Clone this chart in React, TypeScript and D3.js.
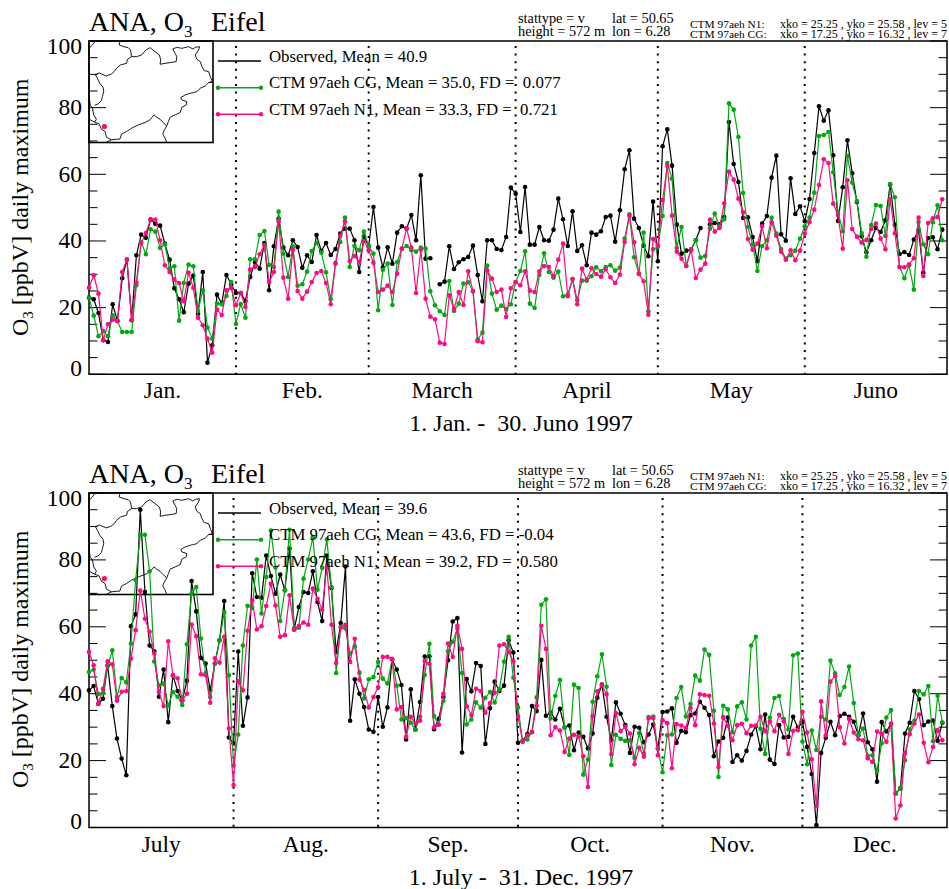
import * as d3 from 'd3'
import React from 'react'

const width = 949
const height = 889
const font = '"Liberation Serif", "Times New Roman", serif'

const green = '#00a910'
const pink = '#ff0a84'

// first half of 1997, one value per day, null where nothing was measured
const obsH1 = [
  23, 22.5, 18.4, 10.2, 9.7, 21, 16, 28.8, 34.4, 16.2,
  35.7, 41.9, 41, 46.4, 45.2, 44.6, 39.2, 34.4, 25.8, 22.5,
  18.6, 27.2, 29.6, 18.2, 30.7, 3.5, 8.7, 23.9, 21.2, 29.8,
  27, 24.4, 24.4, 22, 29.2, 33.7, 31.7, 39.4, 25.2, 38.4,
  46.7, 38, 35.7, 40.2, 38.2, 32, 35.7, 33.7, 41.8, 37,
  39.4, 35.8, 37.6, 42.2, 43.7, 43.7, 40.2, 30.7, 41.4, 38.4,
  50.2, 38, 32, 38.1, 33.2, 42.5, 44.4, 43.7, 47.8, 40.2,
  59.7, 34.7, 34.8, null, 27, 27.8, 38.4, 31.6, 33.6, 34.5,
  35.2, 38.6, 29.8, 21.9, 40.2, 40.2, 37.6, 37.3, 41.2, 56,
  54.2, 42.7, 56.2, 38.9, 38.9, 44.2, 40.2, 40.1, 43.4, 52.7,
  46.5, 38.5, 48.9, 37, 38.7, 32.7, 42.5, 41.9, 42.9, 47.2,
  47.6, 39.8, 49.2, 61.5, 67.2, 46.7, 43.9, 38.6, 35.4, 51.8,
  33.9, 68.4, 73.5, 62.6, 44.9, 36.2, 37.1, 37.4, 40.2, 43.9,
  null, 45, 45.4, 45, 47.2, 75.7, 63.1, 57.7, 46.9, 47.1,
  41.2, 33.9, 45.2, 47.5, 59, 65.6, 42, 40.1, 58.8, 48.1,
  50.4, 45.9, 52.6, 66.4, 80.4, 76.1, 79.2, 65.7, 46, 56.1,
  70.2, 60.3, 51.7, 41.4, 36.6, 40.2, 43.9, 42.7, 46.2, 56.9,
  44.9, 36.1, 36.7, 35.8, 40.4, 43.2, 30.5, 40.9, 41.1, 37.5,
  43.4,
]
const cgH1 = [
  23, 17.6, 11.4, 13, 11.4, 17.7, 16, 12.7, 12.7, 12.7,
  26.7, 39.7, 36, 43.5, 42.8, 37.9, 39, 31.7, 32.4, 16.1,
  27.4, 32.9, 32.4, 19, 25.2, 14, 10.7, 21.2, 21, 23.5,
  27.7, 15.1, 21.1, 17, 34.5, 34.5, 41.8, 43, 32.8, 32.2,
  48.8, 36.2, 29.2, 38.4, 26.6, 27, 30.8, 37, 39.4, 36.5,
  30.6, 22.5, 33.4, 39.7, 47, 32.2, 38.5, 37.2, 42.8, 38.4,
  36.2, 19.2, 31.4, 33.2, 20.8, 33.7, 37.7, 38.5, 37.2, 36.8,
  38, 37.7, 24.9, 20.7, 18.9, 17.8, 28, 19, 21.2, 27.2,
  27.6, 24.9, 10.5, 12.5, 32.6, 24.2, 19.4, 20.6, 19.6, 21,
  27.7, 31, 36.9, 21.2, 19.9, 29.8, 36.3, 30.7, 29, 30.8,
  23.4, 23.9, 28.6, 22.2, 28.1, 28.1, 29.4, 32.1, 30.9, 32.2,
  32.7, 31.1, 32, 40.7, 48, 35.1, 30.2, 42.5, 18.9, 37.5,
  38.2, 47.5, 63.4, 58.7, 37.9, 44.2, 32.5, 37.4, 40.2, 35,
  35.5, 43.7, 48.2, 44.4, 46.5, 81.3, 79.4, 71.2, 54.4, 44.2,
  39, 31, 38.5, 40.2, 47, 42.2, 37.6, 34.7, 35.7, 37.1,
  40.7, 44.4, 47, 54.5, 71.5, 71.8, 72.7, 60.6, 48.7, 42.9,
  65.5, 57.5, 52, 42.4, 35.3, 44.8, 50.8, 50.5, 41.5, 57.1,
  53.1, 32.2, 28.8, 32.7, 25.4, 45.7, 39, 36, 45.6, 50.7,
  40.2,
]
const n1H1 = [
  26, 29.7, 24.2, 10.2, 15, 16.4, 16, 30.7, 34.4, 16.4,
  27.5, 39.4, 42.4, 46.5, 46.4, 40.2, 32.7, 30.7, 28.4, 27.4,
  21.9, 30.5, 25.9, 17, 14.7, 10.7, 6.5, 19.4, 17.8, 25.2,
  25.9, 20.7, 24.4, 20.2, 31.4, 32.2, 36, 38.7, 27.7, 30.7,
  45.9, 29, 22.7, 37.4, 25, 22.7, 24.8, 27.7, 30.4, 31,
  27.4, 21, 33.2, 41.6, 45.9, 34, 35.5, 33.7, 40, 37.2,
  33.5, 24.7, 25.4, 26.6, 24.7, 30.2, 37.7, 43.8, 38, 24.4,
  37.4, 22.7, 17.3, 16.5, 9.5, 9.1, 23.7, 19.6, 24.7, 20.8,
  30.9, 25, 9.9, 9.6, 31.2, 28.7, 24.7, 25.4, 17.2, 25.8,
  27.6, 26.7, 30.9, 25.1, 24.7, 30.9, 32.5, 32.2, 29.4, 34.4,
  39.2, 23.4, 28.6, 21, 31.7, 28.4, 31.8, 30.1, 29.3, 31.5,
  29.1, 27.4, 29.9, 39.7, 47.5, 39.6, 30.1, 27.9, 17.9, 40.6,
  38.7, 52.3, 62.5, 47.6, 36.8, 34.7, 32.5, 37.4, 28.9, 31.4,
  33.2, 46.4, 42.8, 43.9, 51.3, 60.8, 58.4, 52.7, 48.6, 40.6,
  37.4, 39.2, 44.4, 37.8, 45.6, 41.6, 36.8, 34.4, 37.2, 34.2,
  37.1, 42.2, 45.6, 49.4, 56.8, 64.5, 63.4, 51.2, 47.8, 37.7,
  58.2, 43.6, 41.3, 39.5, 40.3, 43.6, 45.2, 40.7, 37.5, 52.5,
  42.3, 32.2, 32.1, 33, 34.8, 47, 29.5, 45.4, 46.8, 47.2,
  52.5,
]

// second half of 1997
const obsH2 = [
  41, 42.3, 37, 38.5, 48.5, 36.3, 26.6, 20.6, 15.6, 60.2,
  63.7, 95, 70.4, 54.4, 52.7, 39.1, 47.2, 31.5, 45.5, 40.8,
  38, 43.9, 73.7, 64.6, 50.7, 49, 41, 49, 56, 67.7,
  26.9, 25.1, 52.6, 30.4, 38.9, 76, 68.9, 68.7, 81.3, 75.2,
  69.9, 75.6, 70.9, 83.4, 59.2, 65.9, 70.4, 70.1, 76.6, 67.4,
  61.7, 81.3, 71.6, 52.5, 61.1, 78, 31.9, 44.3, 40, 36,
  29.3, 28.6, 39, 30.1, 35.9, 50.3, 47.2, 42.6, 26.3, 41.3,
  29.3, 37.5, 51.1, 51.2, 29.4, 32.5, 39, 50, 61.6, 62.6,
  22.4, 44.4, 40.7, 49.2, 48.3, 25, 35.7, 43.6, 40.8, 42.4,
  56, 52.3, 25.3, 25.9, 27.9, 36.3, 34.8, 50.1, 33.4, 34.4,
  32.3, 35.5, 29.9, 30.5, 23.1, 28.4, 27.1, 23.6, 28.1, 38.8,
  42.7, 33.1, 26.1, 37.4, 34, 30.6, 22.3, 30.1, 29.8, 25.5,
  27.8, 30.8, 23.6, 34.5, 34.7, 35.6, 25.3, 28.9, 28.5, 33.6,
  34.1, 37.6, 35.8, 33.6, 21.3, 25.7, 26.8, 32.9, 19.6, 21.6,
  20, 22.9, 27.8, 30.3, 23.4, 33.8, 20.3, 19, 30.6, 26.9,
  27.1, 33.1, 29.8, 31.5, 24.1, 16, 0.7, 22.3, 26.8, 31.6,
  27.6, 33.3, 34, 33.1, 31.6, 27.6, 34.1, 25.5, 23.4, 13.7,
  31.5, 28.7, 31, 10.2, 11.7, 28.1, 31.3, 40.8, 38.4, 30.6,
  31.7, 32, 25.9, 31.3,
]
const cgH2 = [
  46.5, 47.2, 39.9, 40.2, 48.2, 53, 39, 44.7, 43.4, 55,
  74, 87.5, 87.5, 76.6, 49.6, 42.5, 43, 36.4, 40.5, 39.1,
  36.6, 54.8, 69.9, 71.9, 56.5, 46.2, 39, 49, 56, 64.3,
  45.5, 18.5, 27.8, 54.4, 66.3, 65.6, 80.1, 64, 74.9, 88.8,
  77.7, 61.7, 70.9, 89, 59.6, 59.7, 74.4, 80.1, 86.8, 71.1,
  77.6, 86.1, 71.9, 46.2, 60, 59.5, 52, 54.2, 46.3, 38.6,
  44.3, 45, 49.5, 44.5, 43.1, 50.3, 42.4, 32.3, 32.7, 31.3,
  29.2, 33.1, 45.6, 54.9, 33.3, 30.7, 37.8, 52.7, 55.5, 59.5,
  46.2, 30.8, 32.3, 37.4, 35.8, 38.8, 40.5, 37.4, 41.3, 49.6,
  57, 44.8, 35.9, 25.8, 26.3, 28.6, 38.9, 66.6, 68.2, 32.6,
  39.3, 44.1, 29.9, 21.7, 42.7, 41.7, 15.8, 20.3, 37.6, 45.2,
  51.8, 42.1, 18.7, 27.7, 26.5, 25.9, 26.1, 20.8, 28.2, 22.1,
  33, 33.2, 23.6, 16.5, 27.6, 27.8, 38.7, 42, 33.2, 36.9,
  45.4, 43.9, 53.2, 51.6, 34.9, 15.1, 36.4, 35.3, 28.5, 36.2,
  37.4, 32.3, 54.4, 57, 29.5, 22, 32.8, 38.7, 39.3, 32.4,
  29.3, 51.5, 52, 25.7, 18.9, 29, 23.2, 33.1, 32.3, 49.9,
  46.1, 39.6, 42, 48.1, 37.2, 27.6, 29.6, 21.4, 21.6, 16.9,
  25.2, 32.9, 35.1, 10.2, 11.6, 20.1, 29.3, 31.9, 40.8, 39.8,
  42.3, 25.8, 39.4, 31.4,
]
const n1H2 = [
  52.5, 48.5, 37, 41.5, 49.7, 48.8, 37.9, 40.6, 40.8, 50.5,
  59, 70.8, 62.4, 58.5, 52, 40.5, 36.3, 55.7, 45.4, 44.6,
  38, 40, 60.7, 57.2, 45.8, 45.5, 37.3, 50.6, 49.3, 57,
  29.6, 12.7, 43.7, 41, 58.8, 67.9, 59.2, 60.2, 66.2, 72.9,
  66.4, 57, 57.5, 69.4, 59.2, 60.2, 61.3, 60.6, 71.4, 68.4,
  65.1, 77.9, 60.6, 49.2, 59.8, 60.6, 49.5, 56.4, 44.2, 41.2,
  35.9, 39, 41.9, 51, 51, 50.4, 35.3, 36, 27.1, 33.1,
  31.1, 31.9, 49.8, 48.9, 29.9, 30.7, 40, 55, 51, 60.3,
  53.4, 36.2, 33.6, 41.5, 40.8, 34.3, 37.2, 40.3, 54.4, 54.8,
  52.5, 49.7, 33.2, 25.6, 27.6, 28.5, 36.4, 60.3, 53.4, 27.6,
  30, 29, 22.6, 26.6, 27.7, 27.2, 21.3, 12.1, 33.3, 40.7,
  42.5, 39.8, 21.9, 34.2, 28.8, 30.1, 28.1, 18.9, 23.8, 21.2,
  32.6, 32.7, 21.6, 32.1, 31.2, 17.7, 30.9, 30.5, 29.7, 35.8,
  30.6, 39.8, 39.6, 39.4, 31.1, 18.1, 33, 30.4, 26.1, 30.6,
  31, 28.2, 30.4, 30.5, 33.1, 28.8, 31.7, 28.8, 33.7, 31.8,
  22, 28.9, 29.1, 34.6, 28.4, 20.4, 6.4, 37.7, 27.6, 43.6,
  45.3, 30, 25.1, 32.4, 28.4, 26.4, 26.1, 20.7, 19.6, 28.7,
  27.9, 25.6, 31, 2.7, 6.6, 22.3, 27.9, 31.1, 33.8, 25.3,
  19.5, 24.1, 29.1, 26.1,
]

const monthsH1 = ['Jan.', 'Feb.', 'March', 'April', 'May', 'Juno']
const monthDaysH1 = [31, 28, 31, 30, 31, 30]
const monthsH2 = ['July', 'Aug.', 'Sep.', 'Oct.', 'Nov.', 'Dec.']
const monthDaysH2 = [31, 31, 30, 31, 30, 31]

const legendH1 = [
  'Observed, Mean = 40.9',
  'CTM 97aeh CG, Mean = 35.0, FD =  0.077',
  'CTM 97aeh N1, Mean = 33.3, FD =  0.721',
]
const legendH2 = [
  'Observed, Mean = 39.6',
  'CTM 97aeh CG, Mean = 43.6, FD = -0.04',
  'CTM 97aeh N1, Mean = 39.2, FD =  0.580',
]

// state border for the inset, in map units
const borderNorth = [
  [360, 125], [358, 135], [372, 140], [385, 143], [392, 150], [395, 170], [383, 178], [380, 190],
  [362, 195], [350, 205], [345, 213], [335, 222], [320, 228], [305, 222], [300, 219], [287, 224],
  [293, 235], [300, 250], [310, 262], [312, 275], [308, 290], [305, 302], [295, 312], [285, 316],
]
const borderMain = [
  [268, 358], [285, 367], [298, 372], [305, 388], [316, 395], [320, 412], [335, 420], [352, 418],
  [360, 418], [365, 403], [380, 395], [395, 385], [415, 375], [435, 368], [450, 360], [462, 345],
  [470, 352], [480, 358], [488, 367], [500, 378], [505, 365], [510, 352], [525, 345], [540, 338],
  [545, 322], [558, 315], [560, 305], [545, 300], [542, 293], [555, 285], [570, 280], [580, 278],
  [590, 275], [600, 265], [615, 258], [625, 248], [636, 245], [630, 230], [625, 215], [612, 212],
  [605, 200], [600, 185], [590, 178], [585, 165], [595, 150], [598, 140], [585, 142], [578, 147],
  [565, 140], [545, 145], [530, 142], [518, 147], [525, 160], [530, 170], [528, 185], [510, 188],
  [495, 190], [480, 193], [482, 180], [478, 165], [465, 155], [450, 143], [438, 150], [425, 165],
  [410, 170], [395, 170],
]
const borderWest = [[268, 290], [272, 318], [278, 322], [282, 345], [290, 358], [285, 367]]
const borderEast = [[500, 378], [492, 392], [488, 402], [495, 415], [500, 428]]
const borderCorner = [[268, 145], [278, 135], [285, 125]]
const borderSouth = [[318, 428], [335, 420]]
const borderRim = [[625, 248], [638, 247]]
const borders = [borderNorth, borderMain, borderWest, borderEast, borderCorner, borderSouth, borderRim]
const siteMark = [314, 380]

const yMajor = d3.range(0, 101, 20)
const yMinor = d3.range(0, 101, 5)

const x0 = 89
const x1 = 947

function Panel ({ top, bottom, dy, obs, cg, n1, months, monthDays, legend, dateLabel }: any) {
  const total = d3.sum(monthDays) as number
  const x = d3.scaleLinear().domain([0, total]).range([x0, x1])
  const y = d3.scaleLinear().domain([0, 100]).range([bottom, top])
  const line = d3.line<any>().defined(d => d !== null).x((d, i) => x(i)).y(d => y(d))
  const starts: number[] = Array.from(d3.cumsum(monthDays) as any)

  const mapX = d3.scaleLinear().domain([268, 638]).range([89, 213])
  const mapY = d3.scaleLinear().domain([123, 428]).range([top, top + 101.5])
  const mapLine = d3.line<any>().x(d => mapX(d[0])).y(d => mapY(d[1]))

  const serif = { fontFamily: font, whiteSpace: 'pre' as const, fill: '#000' }
  const series = [
    { v: obs, c: '#000' },
    { v: cg, c: green },
    { v: n1, c: pink },
  ]
  const legendY = [20, 46.7, 73.3]

  return (
    <g>
      {/* inset map */}
      <rect x={89} y={top} width={124} height={101.5} fill="#fff" stroke="#000" strokeWidth={1.6} />
      {borders.map((b, i) => (
        <path key={i} d={mapLine(b) as string} fill="none" stroke="#000" strokeWidth={0.9} />
      ))}
      <circle cx={mapX(siteMark[0])} cy={mapY(siteMark[1])} r={2.6} fill="#ff0f5a" />

      {/* frame and ticks */}
      <path d={`M${x0},${top}H${x1}V${bottom}H${x0}Z`} fill="none" stroke="#000" strokeWidth={1.5} />
      {yMinor.map(v => {
        const len = yMajor.includes(v) ? 17 : 8.5
        return (
          <g key={v}>
            <line x1={x0} x2={x0 + len} y1={y(v)} y2={y(v)} stroke="#000" strokeWidth={1} />
            <line x1={x1} x2={x1 - len} y1={y(v)} y2={y(v)} stroke="#000" strokeWidth={1} />
          </g>
        )
      })}
      {yMajor.map(v => {
        const shift = v === 100 ? 5 : v === 0 ? -6 : 0
        return (
          <text key={v} x={82} y={y(v) + shift + 7.5} textAnchor="end" fontSize={23.5} style={serif}>{v}</text>
        )
      })}

      {/* month boundaries */}
      {starts.slice(0, -1).map(d => (
        <line key={d} x1={x(d)} x2={x(d)} y1={top + 5} y2={bottom} stroke="#000" strokeWidth={2} strokeDasharray="2 5.6" />
      ))}

      {/* series */}
      {series.map((s, k) => (
        <g key={k}>
          <path d={line(s.v) as string} fill="none" stroke={s.c} strokeWidth={1.2} />
          {s.v.map((d: number | null, i: number) => d === null ? null : (
            <circle key={i} cx={x(i)} cy={y(d)} r={2.3} fill={s.c} />
          ))}
        </g>
      ))}

      {/* legend */}
      {legend.map((t: string, i: number) => {
        const ly = top + legendY[i]
        return (
          <g key={i}>
            <line x1={218} x2={261} y1={ly} y2={ly} stroke={series[i].c} strokeWidth={1.5} />
            {i > 0 && <circle cx={218} cy={ly} r={2.2} fill={series[i].c} />}
            {i > 0 && <circle cx={261} cy={ly} r={2.2} fill={series[i].c} />}
            <text x={269} y={ly + 0.5} fontSize={16.8} style={serif}>{t}</text>
          </g>
        )
      })}

      {/* title */}
      <text x={89} y={dy + 31} fontSize={28} style={serif}>
        ANA, O<tspan fontSize={17} dy={6}>3</tspan><tspan x={211} dy={-6}>Eifel</tspan>
      </text>

      {/* station header */}
      <text x={518} y={dy + 23} fontSize={14.3} style={serif}>stattype = v</text>
      <text x={518} y={dy + 36} fontSize={14.3} style={serif}>height = 572 m</text>
      <text x={612} y={dy + 23} fontSize={14.3} style={serif}>lat = 50.65</text>
      <text x={612} y={dy + 36} fontSize={14.3} style={serif}>lon = 6.28</text>
      <text x={690} y={dy + 28} fontSize={11.4} style={serif}>CTM 97aeh N1:</text>
      <text x={780} y={dy + 28} fontSize={12} style={serif}>xko = 25.25 , yko = 25.58 , lev = 5</text>
      <text x={690} y={dy + 38} fontSize={11.4} style={serif}>CTM 97aeh CG:</text>
      <text x={780} y={dy + 38} fontSize={12} style={serif}>xko = 17.25 , yko = 16.32 , lev = 7</text>

      {/* y label */}
      <text transform={`translate(28,${dy + 336}) rotate(-90)`} fontSize={24} style={serif}>
        O<tspan fontSize={15} dy={5}>3</tspan><tspan dy={-5}> [ppbV] daily maximum</tspan>
      </text>

      {/* months */}
      {months.map((m: string, i: number) => (
        <text key={m} x={x((i === 0 ? 0 : starts[i - 1]) + monthDays[i] / 2)} y={bottom + 24} textAnchor="middle" fontSize={23.5} style={serif}>{m}</text>
      ))}
      <text x={521} y={bottom + 57} textAnchor="middle" fontSize={24} style={serif}>{dateLabel}</text>
    </g>
  )
}

export default function App () {
  return (
    <svg width={width} height={height} style={{ position: 'absolute', left: 0, top: 0, background: '#fff' }}>
      <Panel top={41} bottom={374.3} dy={0} obs={obsH1} cg={cgH1} n1={n1H1} months={monthsH1} monthDays={monthDaysH1} legend={legendH1} dateLabel="1. Jan. -  30. Juno 1997" />
      <Panel top={493} bottom={827.5} dy={452} obs={obsH2} cg={cgH2} n1={n1H2} months={monthsH2} monthDays={monthDaysH2} legend={legendH2} dateLabel="1. July -  31. Dec. 1997" />
    </svg>
  )
}
